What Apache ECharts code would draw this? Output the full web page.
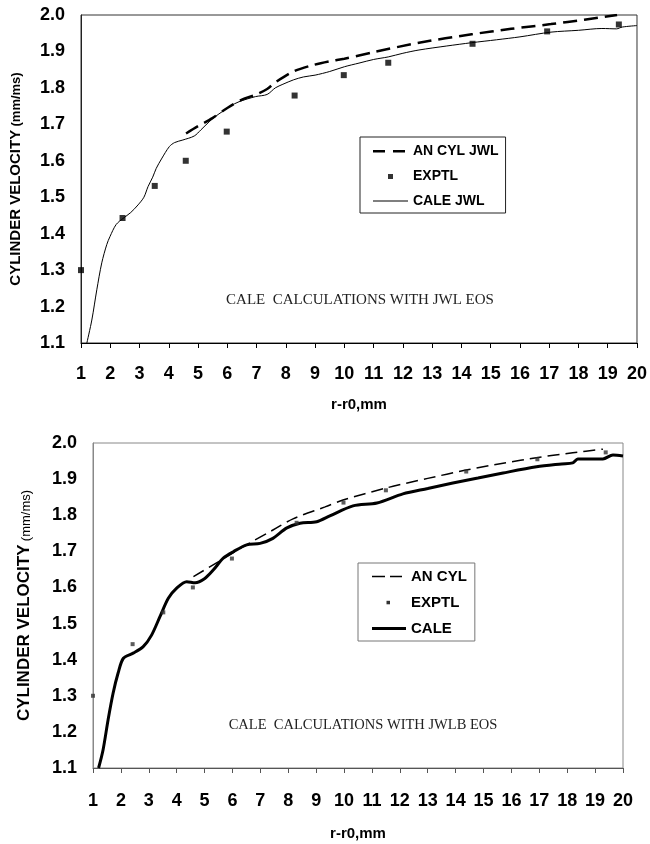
<!DOCTYPE html>
<html>
<head>
<meta charset="UTF-8">
<title>Cylinder velocity - CALE</title>
<script src="https://cdn.jsdelivr.net/npm/echarts@6/dist/echarts.min.js"></script>
<style>
    body { margin: 0; background: #ffffff; }
    #chart { width: 650px; height: 844px; }
</style>
</head>
<body>
<div id="chart"></div>
<script>
    // measured data, [r-r0 (mm), velocity (mm/ms)]
    const exptl = [[1.0, 1.30], [2.42, 1.443], [3.52, 1.531], [4.58, 1.60], [5.98, 1.68], [8.3, 1.779],
        [9.98, 1.835], [11.5, 1.869], [14.38, 1.921], [16.93, 1.955], [19.38, 1.974]];

    // top chart: JWL
    const caleJwl = [[1.2, 1.10], [1.37, 1.163], [1.54, 1.246], [1.71, 1.32], [1.88, 1.37], [1.99, 1.392],
        [2.2, 1.425], [2.44, 1.442], [2.7, 1.458], [2.95, 1.479], [3.15, 1.50], [3.29, 1.529], [3.45, 1.555],
        [3.57, 1.579], [3.75, 1.605], [4.02, 1.639], [4.2, 1.650], [4.48, 1.657], [4.87, 1.668], [5.1, 1.685],
        [5.38, 1.707], [5.6, 1.722], [5.83, 1.735], [6.1, 1.75], [6.4, 1.762], [6.96, 1.776], [7.36, 1.782],
        [7.64, 1.800], [7.9, 1.81], [8.26, 1.822], [8.6, 1.83], [9.0, 1.835], [9.5, 1.845], [10.0, 1.858],
        [10.5, 1.868], [11.0, 1.878], [11.5, 1.885], [12.0, 1.895], [12.55, 1.904], [13.5, 1.915],
        [14.35, 1.924], [15.2, 1.932], [16.0, 1.94], [17.06, 1.953], [18.0, 1.958], [18.8, 1.963],
        [19.3, 1.962], [19.5, 1.967], [20.0, 1.971]];
    const anCylJwl = [[4.59, 1.675], [5.0, 1.695], [5.49, 1.717], [6.0, 1.745], [6.5, 1.768], [6.96, 1.781],
        [7.36, 1.797], [7.64, 1.815], [8.26, 1.845], [8.9, 1.862], [9.5, 1.873], [10.0, 1.880], [11.0, 1.898],
        [12.55, 1.924], [14.35, 1.947], [15.7, 1.962], [17.06, 1.975], [18.2, 1.987], [19.32, 2.0]];

    // bottom chart: JWLB
    const caleJwlb = [[1.2, 1.10], [1.36, 1.15], [1.54, 1.233], [1.72, 1.307], [1.9, 1.363], [2.09, 1.404],
        [2.44, 1.418], [2.8, 1.436], [3.1, 1.468], [3.4, 1.519], [3.7, 1.57], [4.0, 1.598], [4.36, 1.616],
        [4.66, 1.613], [5.01, 1.625], [5.31, 1.648], [5.67, 1.681], [6.03, 1.699], [6.51, 1.718], [6.99, 1.722],
        [7.45, 1.736], [7.95, 1.765], [8.42, 1.778], [9.02, 1.782], [9.49, 1.798], [10.32, 1.826], [11.18, 1.834],
        [12.11, 1.859], [13.0, 1.874], [13.9, 1.889], [14.8, 1.903], [15.7, 1.917], [16.9, 1.934], [17.8, 1.942],
        [18.2, 1.945], [18.38, 1.956], [19.28, 1.956], [19.64, 1.967], [20.0, 1.964]];
    const anCyl = [[4.6, 1.63], [5.49, 1.671], [6.5, 1.718], [7.45, 1.759], [8.17, 1.79], [9.32, 1.823],
        [9.96, 1.842], [11.54, 1.876], [13.0, 1.902], [14.37, 1.925], [15.7, 1.944], [16.95, 1.96],
        [18.2, 1.973], [19.28, 1.983]];

    const xRange = [1, 20];
    const yRange = [1.1, 2.0];

    const sans = '"Liberation Sans", Arial, sans-serif';
    const serif = '"Liberation Serif", "Times New Roman", serif';

    function xAxis(grid, color, labelMargin, nameGap) {
        return {
            gridIndex: grid, type: 'value', min: xRange[0], max: xRange[1], interval: 1,
            axisLine: { lineStyle: { color: color, width: 1 } },
            axisTick: { show: true, inside: false, length: 5, lineStyle: { color: color } },
            axisLabel: { fontSize: 18, fontWeight: 'bold', color: '#000', fontFamily: sans, margin: labelMargin },
            splitLine: { show: false },
            name: 'r-r0,mm', nameLocation: 'middle', nameGap: nameGap,
            nameTextStyle: { fontSize: 15, fontWeight: 'bold', color: '#000', fontFamily: sans }
        };
    }

    function yAxis(grid, color, nameGap, mainSize, parenSize, parenWeight) {
        return {
            gridIndex: grid, type: 'value', min: yRange[0], max: yRange[1], interval: 0.1,
            axisLine: { show: true, lineStyle: { color: color, width: 1 } },
            axisTick: { show: false },
            axisLabel: {
                fontSize: 18, fontWeight: 'bold', color: '#000', fontFamily: sans, margin: 16,
                formatter: v => v.toFixed(1)
            },
            splitLine: { show: false },
            name: '{a|CYLINDER VELOCITY} {b|(mm/ms)}', nameLocation: 'middle', nameRotate: 90, nameGap: nameGap,
            nameTextStyle: {
                color: '#000', fontFamily: sans,
                rich: {
                    a: { fontSize: mainSize, fontWeight: 'bold', fontFamily: sans, verticalAlign: 'bottom' },
                    b: { fontSize: parenSize, fontWeight: parenWeight, fontFamily: sans, verticalAlign: 'bottom' }
                }
            }
        };
    }

    const chart = echarts.init(document.getElementById('chart'));
    chart.setOption({
        backgroundColor: '#ffffff',
        animation: false,
        grid: [
            { left: 79, top: 15, right: 10, bottom: 501, show: true, borderColor: '#333', borderWidth: 1 },
            { left: 93, top: 443, right: 27, bottom: 76, show: true, borderColor: '#888', borderWidth: 1 }
        ],
        xAxis: [xAxis(0, '#000', 22, 54), xAxis(1, '#555', 24, 58)],
        yAxis: [yAxis(0, '#222', 58, 15, 13, 'bold'), yAxis(1, '#888', 60, 17, 13, 'normal')],
        legend: [
            {
                selectedMode: false, orient: 'vertical', left: 360, top: 137,
                padding: [7, 7, 5, 13], itemGap: 11, itemWidth: 35, itemHeight: 10,
                borderColor: '#222', borderWidth: 1, backgroundColor: '#fff',
                itemStyle: { borderWidth: 0 },
                textStyle: { fontSize: 14, fontWeight: 'bold', color: '#000', fontFamily: sans, lineHeight: 14 },
                data: [
                    { name: 'AN CYL JWL', icon: 'path://M0,0M35,10M0,4h12v2.5h-12zM20,4h12v2.5h-12z' },
                    { name: 'EXPTL', icon: 'path://M0,0M35,10M15,3h5v5h-5z' },
                    { name: 'CALE JWL', icon: 'path://M0,0M35,10M0,4.5h35v1h-35z' }
                ]
            },
            {
                selectedMode: false, orient: 'vertical', left: 358, top: 563,
                padding: [6, 8, 5, 14], itemGap: 11, itemWidth: 34, itemHeight: 10,
                borderColor: '#777', borderWidth: 1, backgroundColor: '#fff',
                itemStyle: { borderWidth: 0 },
                textStyle: { fontSize: 15, fontWeight: 'bold', color: '#000', fontFamily: sans, lineHeight: 15 },
                data: [
                    { name: 'AN CYL', icon: 'path://M0,0M34,10M0,4.3h13v1.4h-13zM18,4.3h12v1.4h-12z' },
                    { name: 'EXPTL', icon: 'path://M0,0M34,10M14.5,3.3h3.5v3.5h-3.5z' },
                    { name: 'CALE', icon: 'path://M0,0M34,10M0,3.6h34v2.8h-34z' }
                ]
            }
        ],
        graphic: [
            {
                type: 'text', x: 360, y: 300,
                style: { text: 'CALE  CALCULATIONS WITH JWL EOS', fontSize: 15, fontFamily: serif, fill: '#222', align: 'center', verticalAlign: 'middle' }
            },
            {
                type: 'text', x: 363, y: 725,
                style: { text: 'CALE  CALCULATIONS WITH JWLB EOS', fontSize: 14.5, fontFamily: serif, fill: '#222', align: 'center', verticalAlign: 'middle' }
            }
        ],
        series: [
            {
                name: 'AN CYL JWL', type: 'line', xAxisIndex: 0, yAxisIndex: 0, data: anCylJwl,
                symbol: 'none', smooth: 0.3, color: '#000',
                lineStyle: { color: '#000', width: 2.5, type: [14, 7] }, z: 2
            },
            {
                name: 'CALE JWL', type: 'line', xAxisIndex: 0, yAxisIndex: 0, data: caleJwl,
                symbol: 'none', smooth: 0.3, color: '#000',
                lineStyle: { color: '#000', width: 1 }, z: 3
            },
            {
                name: 'EXPTL', type: 'scatter', xAxisIndex: 0, yAxisIndex: 0, data: exptl,
                symbol: 'rect', symbolSize: 6, clip: false, itemStyle: { color: '#000' }, z: 4
            },
            {
                name: 'AN CYL', type: 'line', xAxisIndex: 1, yAxisIndex: 1, data: anCyl,
                symbol: 'none', smooth: 0.3, color: '#000',
                lineStyle: { color: '#000', width: 1.5, type: [12, 6] }, z: 2
            },
            {
                name: 'CALE', type: 'line', xAxisIndex: 1, yAxisIndex: 1, data: caleJwlb,
                symbol: 'none', smooth: 0.3, color: '#000',
                lineStyle: { color: '#000', width: 3 }, z: 3
            },
            {
                name: 'EXPTL', type: 'scatter', xAxisIndex: 1, yAxisIndex: 1, data: exptl,
                symbol: 'rect', symbolSize: 4, clip: false, itemStyle: { color: '#333' }, z: 4
            }
        ]
    });
</script>
</body>
</html>
